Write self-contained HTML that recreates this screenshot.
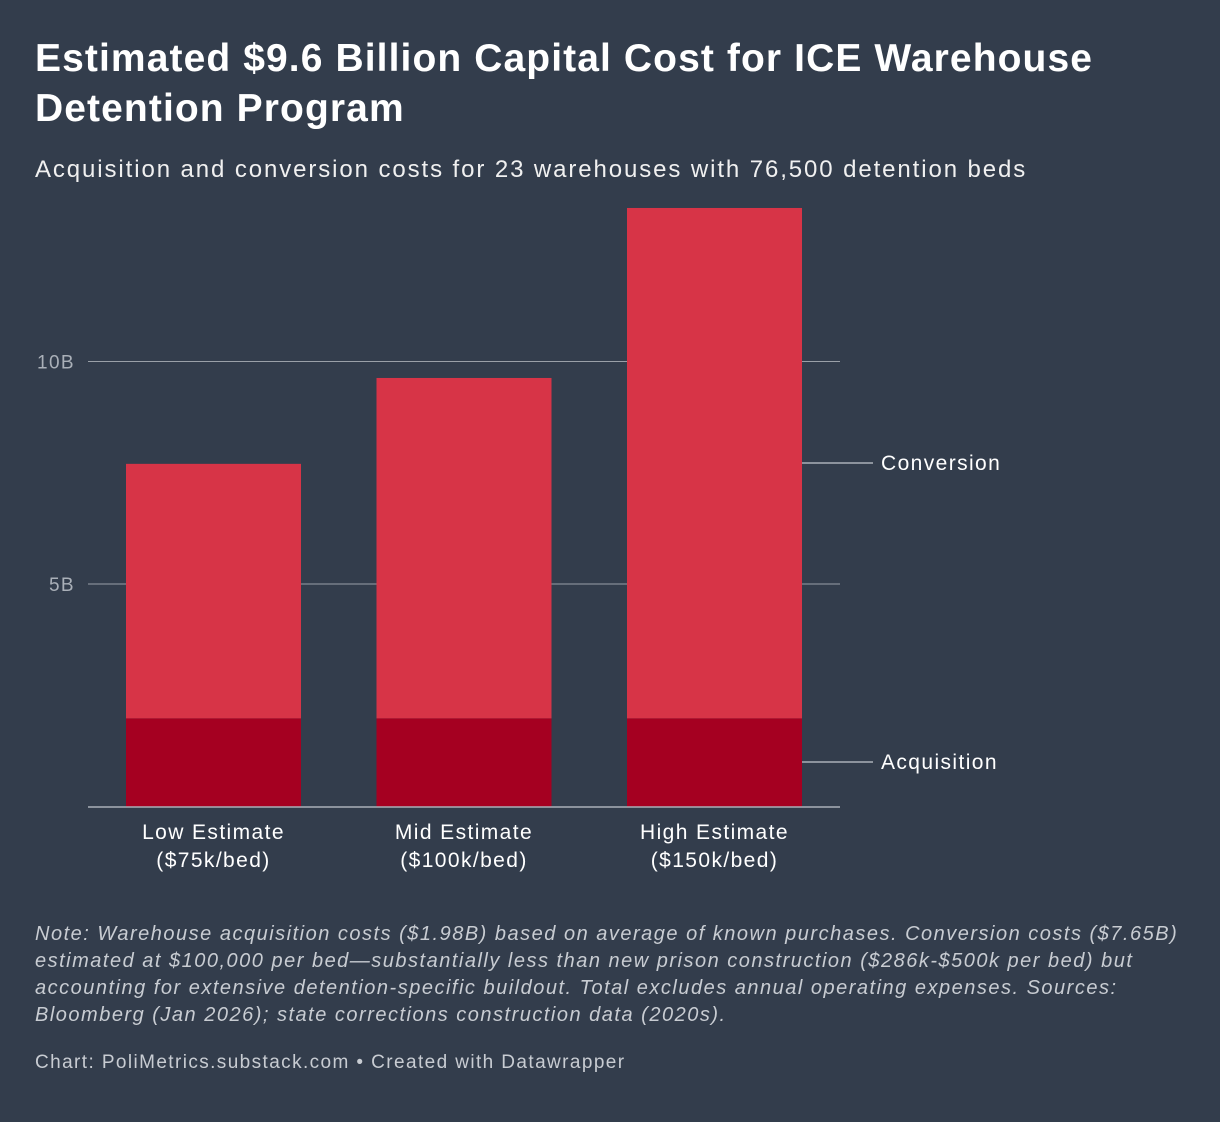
<!DOCTYPE html>
<html><head><meta charset="utf-8">
<style>
body{margin:0;width:1220px;height:1122px;background:#333d4c;font-family:"Liberation Sans",sans-serif;color:#fff;overflow:hidden;position:relative}
.t{position:absolute;left:35px;top:34px;font-size:39px;font-weight:bold;line-height:50px;width:1170px;letter-spacing:1.1px}
.s{position:absolute;left:35px;top:156px;font-size:24px;color:#f0f0f0;letter-spacing:1.9px;white-space:nowrap}
.n{position:absolute;left:35px;top:921px;font-size:20px;font-style:italic;line-height:27px;color:#c8ccd2;width:1160px;letter-spacing:1.5px}
.f{position:absolute;left:35px;top:1052px;font-size:19px;color:#c8ccd2;letter-spacing:1.4px}
svg{position:absolute;left:0;top:0}
svg text{letter-spacing:1.4px}
</style></head><body>
<div class="t">Estimated $9.6 Billion Capital Cost for ICE Warehouse Detention Program</div>
<div class="s">Acquisition and conversion costs for 23 warehouses with 76,500 detention beds</div>
<svg id="c" width="1220" height="1122"></svg>
<div class="n">Note: Warehouse acquisition costs ($1.98B) based on average of known purchases. Conversion costs ($7.65B) estimated at $100,000 per bed—substantially less than new prison construction ($286k-$500k per bed) but accounting for extensive detention-specific buildout. Total excludes annual operating expenses. Sources: Bloomberg (Jan 2026); state corrections construction data (2020s).</div>
<div class="f">Chart: PoliMetrics.substack.com • Created with Datawrapper</div>
<script>
const categories=["Low Estimate","Mid Estimate","High Estimate"];
const subLabels=["($75k/bed)","($100k/bed)","($150k/bed)"];
const acquisition=[1.98,1.98,1.98];
const conversion=[5.72,7.65,11.47];
const ticks=[5,10];
const tickLabels=["5B","10B"];
const svg=document.getElementById('c');
const NS='http://www.w3.org/2000/svg';
const y=v=>806.5-v*44.5;
const x0=126,step=250.5,bw=175;
function mk(t,a,p){const e=document.createElementNS(NS,t);for(const k in a)e.setAttribute(k,a[k]);(p||svg).appendChild(e);return e;}
ticks.forEach((t,i)=>{
 const l=mk('line',{x1:88,x2:840,y1:y(t),y2:y(t),stroke:'#9aa0a8','stroke-width':1});
 
 
 const tx=mk('text',{x:75,y:y(t)+7,'text-anchor':'end','font-size':19,fill:'#aab0b8'});
 tx.textContent=tickLabels[i];
 
 
});
categories.forEach((c,i)=>{
 const x=x0+i*step;
 const a=mk('rect',{x:x,y:y(acquisition[i]),width:bw,height:y(0)-y(acquisition[i]),fill:'#a50021'});
 
 
 const tot=acquisition[i]+conversion[i];
 const b=mk('rect',{x:x,y:y(tot),width:bw,height:y(acquisition[i])-y(tot),fill:'#d73447'});
 
 
 const t1=mk('text',{x:x+bw/2,y:839,'text-anchor':'middle','font-size':21,fill:'#fff'});
 t1.textContent=c;
 
 
 const t2=mk('text',{x:x+bw/2,y:867,'text-anchor':'middle','font-size':21,fill:'#fff'});
 t2.textContent=subLabels[i];
 
 
});
const bl=mk('line',{x1:88,x2:840,y1:807,y2:807,stroke:'#aab0b8','stroke-width':1.5});


const last=categories.length-1;
const lx=x0+last*step+bw;
[["Conversion",acquisition[last]+conversion[last]/2],["Acquisition",acquisition[last]/2]].forEach(([n,v])=>{
 const yy=Math.round(y(v));
 const l=mk('line',{x1:lx,x2:873,y1:yy,y2:yy,stroke:'#aab0b8','stroke-width':1.5});
 
 
 const t=mk('text',{x:881,y:yy+7,'font-size':21,fill:'#fff'});
 t.textContent=n;
 
 
});
</script>
</body></html>
